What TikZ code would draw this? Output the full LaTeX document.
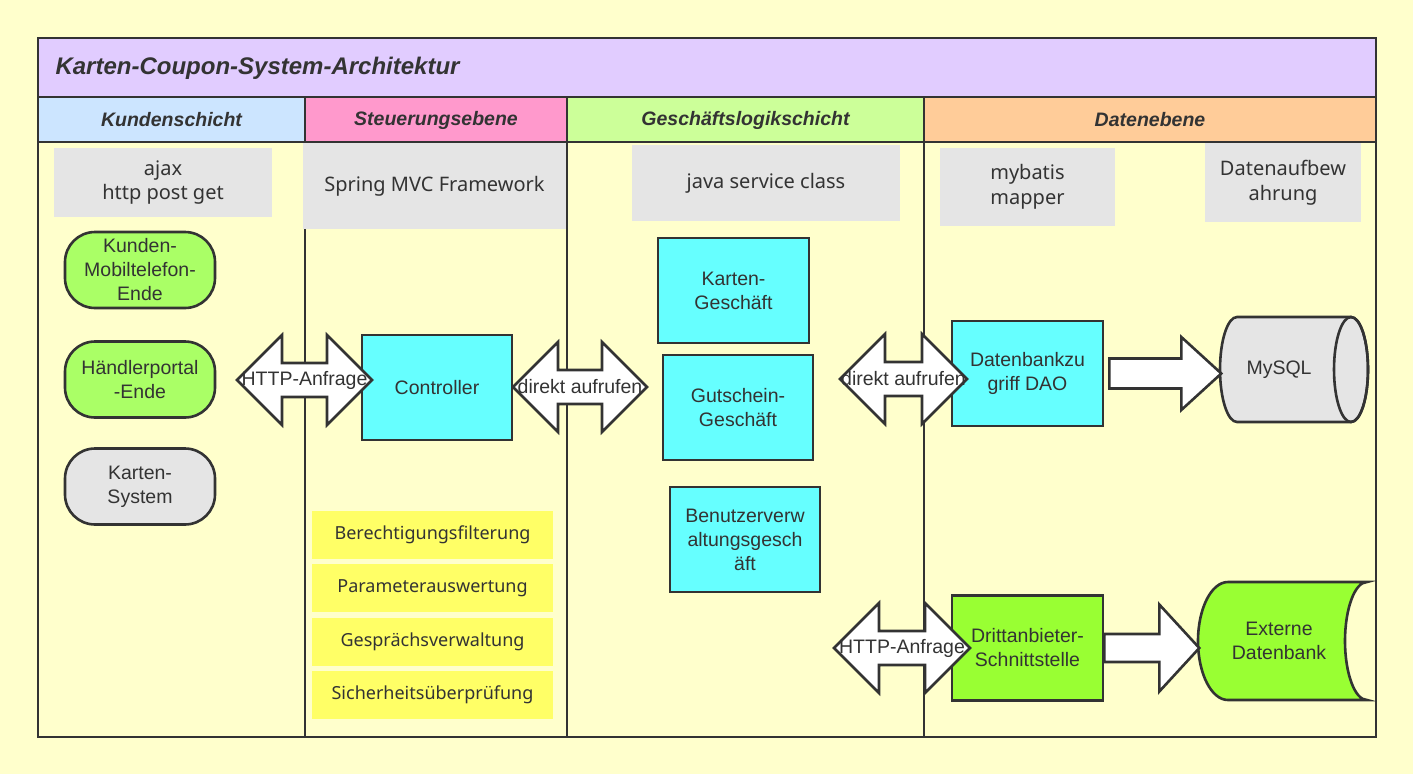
\documentclass[tikz,border=0pt]{standalone}
\usepackage{fontspec}
\setmainfont{Liberation Sans}
\newfontfamily\uifont{Noto Sans}
\definecolor{ink}{HTML}{333333}
\definecolor{paper}{HTML}{FFFFCC}
\definecolor{titlebg}{HTML}{E1CCFF}
\definecolor{kundebg}{HTML}{CCE5FF}
\definecolor{steuerbg}{HTML}{FF99CC}
\definecolor{logikbg}{HTML}{CCFF99}
\definecolor{datenbg}{HTML}{FFCC99}
\definecolor{greybox}{HTML}{E5E5E5}
\definecolor{cyanbox}{HTML}{66FFFF}
\definecolor{limebox}{HTML}{AAFF66}
\definecolor{greenbox}{HTML}{99FF33}
\definecolor{yellowbox}{HTML}{FFFF66}
\newcommand\dblarrow[4]{%
 \draw[blockarrow] (#2) ++(-#3,0) -- ++(45,-45) -- ++(0,28) -- ++({2*#3-90},0) -- ++(0,-28)
  -- ++(45,45) -- ++(-45,45) -- ++(0,-28) -- ++({90-2*#3},0) -- ++(0,28) -- cycle;
 \node[arrowtext] (#1) at (#2) {#4};}
\begin{document}
\begin{tikzpicture}[
 x=1pt,y=-1pt,
 frame/.style={draw=ink,line width=2.6pt},
 body/.style={font=\fontsize{19.5}{24}\selectfont,text=ink,align=center},
 lanehead/.style={font=\fontsize{19.5}{23}\selectfont\bfseries\itshape,text=ink},
 note/.style={fill=greybox,text=ink,font=\uifont\fontsize{20}{24.5}\selectfont,align=center,inner sep=0pt},
 layer/.style={fill=yellowbox,text=ink,font=\uifont\fontsize{18}{22}\selectfont,minimum width=241,minimum height=48,inner sep=0pt},
 terminal/.style={body,draw=ink,line width=2.6pt,rounded corners=30pt,minimum width=150,minimum height=76,inner sep=0pt},
 proc/.style={body,draw=ink,line width=2.6pt,fill=cyanbox,minimum width=151,minimum height=105,inner sep=0pt},
 store/.style={draw=ink,line width=2.6pt},
 blockarrow/.style={draw=ink,line width=2.6pt,fill=white,line join=miter},
 arrowtext/.style={body,inner sep=0pt},
 sz/.style 2 args={minimum width=#1,minimum height=#2}]
 \useasboundingbox (0,0) rectangle (1413,774);
 \fill[paper] (0,0) rectangle (1413,774);
 % Title band and lane headers.
 \fill[titlebg] (38,38) rectangle (1376,97);
 \fill[kundebg] (38,97) rectangle (305,142);
 \fill[steuerbg] (305,97) rectangle (567,142);
 \fill[logikbg] (567,97) rectangle (924,142);
 \fill[datenbg] (924,97) rectangle (1376,142);
 \draw[frame] (38,38) rectangle (1376,737);
 \draw[frame] (38,97) -- (1376,97) (38,142) -- (1376,142);
 \foreach \lx in {305,567,924}{
  \draw[frame] (\lx,97) -- (\lx,737);
 }
 \node[anchor=west,text=ink,font=\fontsize{24}{28}\selectfont\bfseries\itshape] (title) at (52,68) {Karten-Coupon-System-Architektur};
 \node[lanehead] (kunde) at (171.5,120) {Kundenschicht};
 \node[lanehead] (steuer) at (436,120) {Steuerungsebene};
 \node[lanehead] (logik) at (745.5,120) {Geschäftslogikschicht};
 \node[lanehead] (daten) at (1150,120) {Datenebene};
 % Grey notes under the headers.
 \node[note,sz={218}{69}] (ajax) at (163,182.5) {ajax\\http post get};
 \node[note,sz={263}{86}] (spring) at (434.5,186) {Spring MVC Framework};
 \node[note,sz={268}{76}] (java) at (766,183) {java service class};
 \node[note,sz={175}{78}] (mybatis) at (1027.5,187) {mybatis\\mapper};
 \node[note,sz={156}{79}] (aufbew) at (1283,182.5) {Datenaufbew\\ahrung};
 % Client lane.
 \node[terminal,fill=limebox] (mobil) at (140,270) {Kunden-\\Mobiltelefon-\\Ende};
 \node[terminal,fill=limebox] (haendler) at (140,379.5) {Händlerportal\\-Ende};
 \node[terminal,fill=greybox] (kartensys) at (140,486.5) {Karten-\\System};
 % Control lane.
 \node[proc,sz={150}{105}] (ctl) at (437,387.5) {Controller};
 \foreach \ly/\lname/\ltext in {535/filt/Berechtigungsfilterung,588.3/param/Parameterauswertung,
   641.7/sess/Gesprächsverwaltung,695/sec/Sicherheitsüberprüfung}{
  \node[layer] (\lname) at (432.5,\ly) {\ltext};
 }
 % Business lane.
 \node[proc] (karte) at (733.5,290.5) {Karten-\\Geschäft};
 \node[proc,sz={150}{105}] (gutschein) at (738,407.5) {Gutschein-\\Geschäft};
 \node[proc,sz={150}{105}] (benutzer) at (745,539.5) {Benutzerverw\\altungsgesch\\äft};
 % Data lane.
 \node[proc] (dao) at (1027.5,373.5) {Datenbankzu\\griff DAO};
 \node[proc,fill=greenbox] (dritt) at (1027.5,648) {Drittanbieter-\\Schnittstelle};
 \draw[store,fill=greybox] (1237,317) -- (1351,317) arc[start angle=-90,end angle=90,x radius=17,y radius=52.5]
  -- (1237,422) arc[start angle=90,end angle=270,x radius=17,y radius=52.5] -- cycle;
 \draw[store] (1351,369.5) ellipse[x radius=17,y radius=52.5];
 \node[body] (mysql) at (1279,369.5) {MySQL};
 \draw[store,fill=greenbox] (1228,582) .. controls (1211.4,582) and (1198,608.4) .. (1198,641)
  .. controls (1198,673.6) and (1211.4,700) .. (1228,700) -- (1367,700)
  .. controls (1354.9,700) and (1345,673.6) .. (1345,641)
  .. controls (1345,608.4) and (1354.9,582) .. (1367,582) -- cycle;
 \node[body] (extdb) at (1279,641) {Externe\\Datenbank};
 % Block arrows between the lanes.
 \dblarrow{httpA}{304.5,380}{67.5}{HTTP-Anfrage}
 \dblarrow{callA}{580,387}{67}{direkt aufrufen}
 \dblarrow{callB}{903.5,379}{63.5}{direkt aufrufen}
 \dblarrow{httpB}{902,648}{68}{HTTP-Anfrage}
 \draw[blockarrow] (dao.east) ++(5,-15) -- ++(72,0) -- ++(0,-21.5) -- ++(40,36.5)
  -- ++(-40,36.5) -- ++(0,-21.5) -- ++(-72,0) -- cycle;
 \draw[blockarrow] (dritt.east) ++(0,-14) -- ++(55,0) -- ++(0,-29.5) -- ++(40,43.5)
  -- ++(-40,43.5) -- ++(0,-29.5) -- ++(-55,0) -- cycle;
\end{tikzpicture}
\end{document}
